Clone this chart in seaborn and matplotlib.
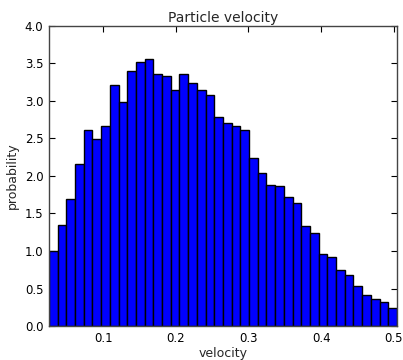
import numpy as np
import pandas as pd
import matplotlib
matplotlib.use("Agg")
import matplotlib.pyplot as plt
import seaborn as sns

# Histogram bins of particle speed (normalised density)
bin_start = 0.0253
bin_width = 0.01198
densities = [1.00, 1.35, 1.69, 2.16, 2.61, 2.49, 2.67, 3.21, 2.98, 3.40,
             3.52, 3.56, 3.36, 3.33, 3.15, 3.36, 3.24, 3.15, 3.08, 2.79,
             2.70, 2.67, 2.61, 2.24, 2.04, 1.88, 1.86, 1.72, 1.64, 1.33,
             1.24, 0.96, 0.92, 0.75, 0.68, 0.53, 0.41, 0.36, 0.32, 0.24]
x_ticks = [0.1, 0.2, 0.3, 0.4, 0.5]
y_ticks = [0.0, 0.5, 1.0, 1.5, 2.0, 2.5, 3.0, 3.5, 4.0]

n = len(densities)
edges = bin_start + bin_width * np.arange(n + 1)
df = pd.DataFrame({"velocity": (edges[:-1] + edges[1:]) / 2,
                   "density": densities})

sns.set_style("ticks")
plt.rcParams["font.family"] = ["DejaVu Sans"]

fig = plt.figure(figsize=(4.03, 3.6), dpi=100)
ax = fig.add_axes([0.1216, 0.0944, 0.8634, 0.8336])

sns.histplot(data=df, x="velocity", weights="density", bins=list(edges),
             stat="count", color="#0000ff", alpha=1.0, edgecolor="black",
             linewidth=1.0, ax=ax)

ax.set_xlim(edges[0], edges[-1])
ax.set_ylim(0, 4.0)
ax.set_xticks(x_ticks)
ax.set_yticks(y_ticks)
ax.set_yticklabels([f"{v:.1f}" for v in y_ticks])
ax.tick_params(direction="in", top=True, right=True, length=4, width=0.8,
               labelsize=8.5, pad=4, colors="black")
for s in ax.spines.values():
    s.set_color("#444444")
    s.set_linewidth(1.0)

ax.set_title("Particle velocity", fontsize=10, pad=3)
ax.set_xlabel("velocity", fontsize=9, labelpad=2)
ax.set_ylabel("probability", fontsize=9, labelpad=4)

fig.savefig("out.png", dpi=100)
